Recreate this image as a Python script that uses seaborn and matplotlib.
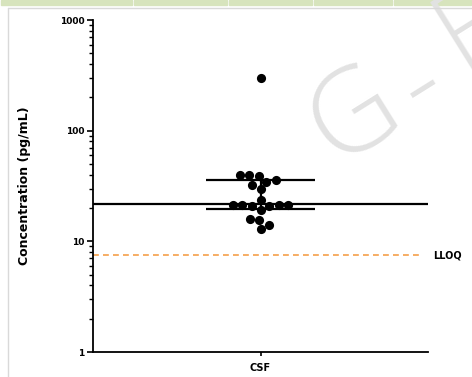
import matplotlib
matplotlib.use("Agg")
import matplotlib.pyplot as plt
import matplotlib.patches as mpatches
from matplotlib.ticker import LogLocator, NullFormatter, FixedLocator, FixedFormatter
import pandas as pd
import seaborn as sns

# values (pg/mL)
csf_values = [300, 40, 39, 40, 34.6, 35.5, 32.4, 29.7, 23.4,
              21.4, 21.4, 21.0, 19.3, 21.0, 21.4, 21.4,
              15.7, 15.9, 13.0, 14.1]
group_names = ["CSF"]
median_value = 21.7
q1_value = 19.7
q3_value = 35.5
lloq_value = 7.5
y_ticks = [1, 10, 100, 1000]
y_tick_labels = ["1", "10", "100", "1000"]


def main():
    sns.set_style("white")
    plt.rcParams["font.family"] = ["DejaVu Sans"]
    plt.rcParams["text.color"] = "black"
    plt.rcParams["axes.labelcolor"] = "black"
    plt.rcParams["xtick.color"] = "black"
    plt.rcParams["ytick.color"] = "black"

    fig = plt.figure(figsize=(4.72, 3.77), dpi=100)

    # page decoration around the pasted chart: green table strip, frame lines
    cuts = [0, 133, 228, 313, 393, 472]
    for a, b in zip(cuts[:-1], cuts[1:]):
        fig.patches.append(mpatches.Rectangle(((a + 1) / 472, 1 - 5 / 377), (b - a - 2) / 472, 5 / 377,
                                              transform=fig.transFigure, color="#d7e4bd", zorder=0))
    fig.add_artist(plt.Line2D([8 / 472, 1], [1 - 7.5 / 377, 1 - 7.5 / 377], transform=fig.transFigure,
                              color="#d9d9d9", lw=1))
    fig.add_artist(plt.Line2D([8 / 472, 8 / 472], [0, 1 - 7.5 / 377], transform=fig.transFigure,
                              color="#d9d9d9", lw=1))

    # watermark, letters placed one by one (wide spacing in the original)
    wm = dict(rotation=32, fontsize=84, color="#e2e2e2", fontweight=300,
              family=["Open Sans", "DejaVu Sans"],
              ha="center", va="center", rotation_mode="anchor", zorder=0)
    fig.text(355 / 472, 1 - 117 / 377, "G", **wm)
    fig.text(423 / 472, 1 - 87 / 377, "-", **wm)
    fig.text(477 / 472, 1 - 28 / 377, "B", **wm)

    ax = fig.add_axes([93 / 472, 1 - 352 / 377, 335 / 472, 332 / 377])
    ax.patch.set_alpha(0)
    ax.set_yscale("log")
    ax.set_ylim(1, 1000)
    ax.set_xlim(-0.5, 0.5)

    df = pd.DataFrame({"group": group_names * len(csf_values), "value": csf_values})
    sns.swarmplot(data=df, x="group", y="value", color="black", size=6.6, ax=ax, zorder=3)
    ax.set_xlim(-0.5, 0.5)

    # median line and interquartile bars
    ax.hlines(median_value, -0.5, 0.5, color="black", lw=1.6, zorder=4)
    ax.hlines([q1_value, q3_value], -0.164, 0.164, color="black", lw=1.6, zorder=4)
    ax.vlines(0, q1_value, q3_value, color="black", lw=1.6, zorder=4)

    # LLOQ
    ax.axhline(lloq_value, xmin=0, xmax=0.985, color="#f5a04a", lw=1.2, ls=(0, (3.5, 2.5)), zorder=2)
    ax.text(1.015, lloq_value, "LLOQ", transform=ax.get_yaxis_transform(), fontsize=7,
            fontweight="bold", va="center", ha="left")

    for s in ["top", "right"]:
        ax.spines[s].set_visible(False)
    for s in ["left", "bottom"]:
        ax.spines[s].set_linewidth(1.3)
        ax.spines[s].set_color("black")

    ax.yaxis.set_major_locator(FixedLocator(y_ticks))
    ax.yaxis.set_major_formatter(FixedFormatter(y_tick_labels))
    ax.yaxis.set_minor_locator(LogLocator(base=10, subs=range(2, 10)))
    ax.yaxis.set_minor_formatter(NullFormatter())
    ax.tick_params(axis="y", which="major", direction="out", length=4, width=1.2, labelsize=6.5, pad=2,
                   left=True)
    ax.tick_params(axis="y", which="minor", direction="out", length=3, width=1.0, left=True)
    ax.tick_params(axis="x", direction="out", length=3, width=1.2, labelsize=7, pad=5, bottom=True)
    for lab in ax.get_yticklabels() + ax.get_xticklabels():
        lab.set_fontweight("bold")

    ax.set_xlabel("")
    ax.set_ylabel("Concentration (pg/mL)", fontsize=9, fontweight="bold", labelpad=21)

    fig.savefig("out.png", dpi=100)


main()
